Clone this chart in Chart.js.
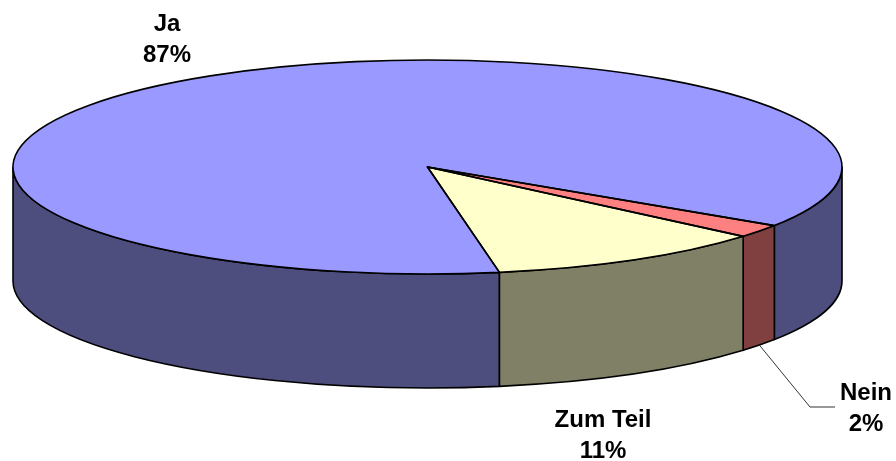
<!DOCTYPE html>
<html lang="de">
<head>
    <meta charset="UTF-8">
    <title>Ja / Nein / Zum Teil</title>
    <script src="https://cdn.jsdelivr.net/npm/chart.js"></script>
    <style>
        html, body { margin: 0; padding: 0; background: #fff; }
        #wrap { width: 896px; height: 461px; }
    </style>
</head>
<body>
    <div id="wrap">
        <canvas id="myChart" width="896" height="461"></canvas>
    </div>

    <script>
        // Daten
        const kategorien = ['Ja', 'Nein', 'Zum Teil'];
        const prozente = [87, 2, 11];
        const etiketten = ['87%', '2%', '11%'];

        // Farben (Oberseite / Seitenwand)
        const farbenOben = ['#9999FF', '#FF8080', '#FFFFCC'];
        const farbenSeite = ['#4D4D7E', '#804040', '#808066'];

        const tiefe = 114;   // Hoehe der Seitenwand in px

        // Hilfsfunktion: Ellipsenparameter aus dem Kreis der Bibliothek
        function ellipse(chart) {
            const a = chart.getDatasetMeta(0).data[0];
            const area = chart.chartArea;
            const ry = a.outerRadius;
            const rx = area.width / 2;
            return { cx: a.x, cy: a.y, rx: rx, ry: ry, k: rx / ry };
        }

        const pie3d = {
            id: 'pie3d',
            beforeDatasetsDraw(chart) {
                const ctx = chart.ctx;
                const e = ellipse(chart);
                const arcs = chart.getDatasetMeta(0).data;

                // Seitenwaende (nur vordere Haelfte sichtbar: 0..PI)
                ctx.save();
                ctx.lineWidth = 1.6;
                ctx.strokeStyle = '#000';
                ctx.lineJoin = 'round';
                arcs.forEach((arc, i) => {
                    const s = arc.startAngle, en = arc.endAngle;
                    for (let n = -2; n <= 2; n++) {
                        const a = Math.max(s, 2 * Math.PI * n);
                        const b = Math.min(en, 2 * Math.PI * n + Math.PI);
                        if (b <= a) continue;
                        ctx.beginPath();
                        ctx.ellipse(e.cx, e.cy, e.rx, e.ry, 0, a, b);
                        ctx.ellipse(e.cx, e.cy + tiefe, e.rx, e.ry, 0, b, a, true);
                        ctx.closePath();
                        ctx.fillStyle = farbenSeite[i];
                        ctx.fill();
                        ctx.stroke();
                    }
                });
                ctx.restore();

                // Kreis der Bibliothek horizontal zur Ellipse strecken
                ctx.save();
                ctx.translate(e.cx, 0);
                ctx.scale(e.k, 1);
                ctx.translate(-e.cx, 0);
            },
            afterDatasetsDraw(chart) {
                const ctx = chart.ctx;
                ctx.restore();
                const e = ellipse(chart);
                const arcs = chart.getDatasetMeta(0).data;

                // Umrisse der Oberseite
                ctx.save();
                ctx.lineWidth = 1.6;
                ctx.strokeStyle = '#000';
                ctx.lineJoin = 'round';
                arcs.forEach(arc => {
                    ctx.beginPath();
                    ctx.moveTo(e.cx, e.cy);
                    ctx.ellipse(e.cx, e.cy, e.rx, e.ry, 0, arc.startAngle, arc.endAngle);
                    ctx.closePath();
                    ctx.stroke();
                });
                ctx.restore();
            },
            afterDraw(chart) {
                const ctx = chart.ctx;
                const e = ellipse(chart);
                const arcs = chart.getDatasetMeta(0).data;

                // Fuehrungslinie fuer "Nein"
                const nein = arcs[1];
                const mid = (nein.startAngle + nein.endAngle) / 2;
                ctx.save();
                ctx.strokeStyle = '#333';
                ctx.lineWidth = 1;
                ctx.beginPath();
                ctx.moveTo(e.cx + e.rx * Math.cos(mid), e.cy + tiefe + e.ry * Math.sin(mid));
                ctx.lineTo(810, 407);
                ctx.lineTo(835, 407);
                ctx.stroke();

                // Beschriftungen
                const pos = [[167, 31], [866, 400], [603, 427]];
                ctx.fillStyle = '#000';
                ctx.font = 'bold 24px "Liberation Sans", Arial, sans-serif';
                ctx.textAlign = 'center';
                ctx.textBaseline = 'alphabetic';
                kategorien.forEach((k, i) => {
                    ctx.fillText(k, pos[i][0], pos[i][1]);
                    ctx.fillText(etiketten[i], pos[i][0], pos[i][1] + 31);
                });
                ctx.restore();
            }
        };

        const ctx = document.getElementById('myChart').getContext('2d');
        const chart = new Chart(ctx, {
            type: 'pie',
            data: {
                labels: kategorien,
                datasets: [{
                    data: prozente,
                    backgroundColor: farbenOben,
                    borderWidth: 0,
                    clip: false
                }]
            },
            options: {
                responsive: false,
                animation: false,
                events: [],
                rotation: 170,
                layout: {
                    padding: { left: 13, right: 54, top: 60, bottom: 187 }
                },
                plugins: {
                    legend: { display: false },
                    tooltip: { enabled: false }
                }
            },
            plugins: [pie3d]
        });
    </script>
</body>
</html>
